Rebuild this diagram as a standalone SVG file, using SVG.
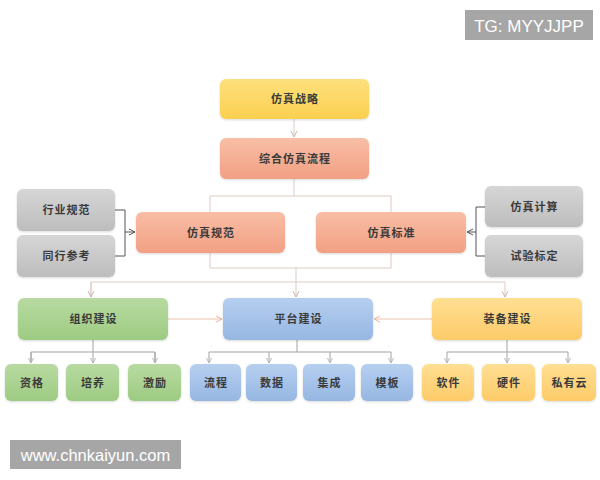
<svg xmlns="http://www.w3.org/2000/svg" width="600" height="480" viewBox="0 0 600 480">
<style>
.t{font-family:"Noto Sans CJK SC","Noto Sans",sans-serif;font-size:11px;font-weight:700;fill:#3a3a3a;text-anchor:middle;letter-spacing:1px}
.box{stroke:none;filter:url(#sh)}
.y{fill:url(#gy)}.s{fill:url(#gs)}.g{fill:url(#gg)}.gr{fill:url(#ggr)}.b{fill:url(#gb)}.o{fill:url(#go)}
.cl{fill:none;stroke:#dccbc3;stroke-width:1}
.ck{fill:none;stroke:#555;stroke-width:1}
.cs{fill:none;stroke:#efc2ad;stroke-width:1.2}
.cg{fill:none;stroke:#a3a3a3;stroke-width:1}
.wm{font-family:"Liberation Sans",Arial,sans-serif;fill:#fff}
</style>
<defs>
<linearGradient id="gy" x1="0" y1="0" x2="0" y2="1"><stop offset="0" stop-color="#fde07c"/><stop offset="1" stop-color="#fbd050"/></linearGradient>
<linearGradient id="gs" x1="0" y1="0" x2="0" y2="1"><stop offset="0" stop-color="#f8bea6"/><stop offset="1" stop-color="#f2a083"/></linearGradient>
<linearGradient id="gg" x1="0" y1="0" x2="0" y2="1"><stop offset="0" stop-color="#d6d6d6"/><stop offset="1" stop-color="#bdbdbd"/></linearGradient>
<linearGradient id="ggr" x1="0" y1="0" x2="0" y2="1"><stop offset="0" stop-color="#b8daa2"/><stop offset="1" stop-color="#9dcb82"/></linearGradient>
<linearGradient id="gb" x1="0" y1="0" x2="0" y2="1"><stop offset="0" stop-color="#b6cff0"/><stop offset="1" stop-color="#96b7e2"/></linearGradient>
<linearGradient id="go" x1="0" y1="0" x2="0" y2="1"><stop offset="0" stop-color="#ffdf93"/><stop offset="1" stop-color="#fdcb68"/></linearGradient>
<filter id="sh" x="-10%" y="-10%" width="120%" height="130%"><feDropShadow dx="0" dy="1" stdDeviation="1" flood-color="#000" flood-opacity="0.15"/></filter>
<marker id="ak" markerWidth="8" markerHeight="8" refX="7" refY="4" orient="auto" markerUnits="userSpaceOnUse"><path d="M1,1 L7,4 L1,7" fill="none" stroke="#555" stroke-width="1"/></marker>
<marker id="al" markerWidth="8" markerHeight="8" refX="7" refY="4" orient="auto" markerUnits="userSpaceOnUse"><path d="M1,1 L7,4 L1,7" fill="none" stroke="#cdb5ab" stroke-width="1"/></marker>
<marker id="as" markerWidth="8" markerHeight="8" refX="7" refY="4" orient="auto" markerUnits="userSpaceOnUse"><path d="M1,1 L7,4 L1,7" fill="none" stroke="#e9b49c" stroke-width="1"/></marker>
<marker id="ag" markerWidth="8" markerHeight="8" refX="7" refY="4" orient="auto" markerUnits="userSpaceOnUse"><path d="M2,1.5 L7,4 L2,6.5" fill="none" stroke="#b5b5b5" stroke-width="1"/></marker>
</defs>
<rect width="600" height="480" fill="#fff"/>

<g id="connectors">
<path class="cl" d="M294,119 V137" marker-end="url(#al)"/>
<path class="cl" d="M294,179 V196 M210,212 V196 H391 V212"/>
<path class="cl" d="M210,253 V268 H391 V253"/>
<path class="cl" d="M296,268 V297" marker-end="url(#al)"/>
<path class="cl" d="M91,297 V282 H505 V297" marker-end="url(#al)"/>
<path class="cl" d="M91,282 V297" marker-end="url(#al)"/>
<path class="ck" d="M115,210 H125 V256 H115"/>
<path class="ck" d="M125,232 H135" marker-end="url(#ak)"/>
<path class="ck" d="M485,207 H476 V256 H485"/>
<path class="ck" d="M476,232 H467" marker-end="url(#ak)"/>
<path class="cs" d="M168,319 H222" marker-end="url(#as)"/>
<path class="cs" d="M432,319 H374" marker-end="url(#as)"/>
<path class="cg" d="M93,340 V352 M31,363 V352 H155 V363"/>
<path class="cg" d="M31,352 V363" marker-end="url(#ag)"/>
<path class="cg" d="M93,352 V363" marker-end="url(#ag)"/>
<path class="cg" d="M155,352 V363" marker-end="url(#ag)"/>
<path class="cg" d="M297,340 V352 M209,352 H391"/>
<path class="cg" d="M209,352 V363" marker-end="url(#ag)"/>
<path class="cg" d="M269,352 V363" marker-end="url(#ag)"/>
<path class="cg" d="M330,352 V363" marker-end="url(#ag)"/>
<path class="cg" d="M391,352 V363" marker-end="url(#ag)"/>
<path class="cg" d="M507,340 V352 M447,352 H568"/>
<path class="cg" d="M447,352 V363" marker-end="url(#ag)"/>
<path class="cg" d="M507,352 V363" marker-end="url(#ag)"/>
<path class="cg" d="M568,352 V363" marker-end="url(#ag)"/>
</g>

<g id="n-zhanlue"><rect class="box y" x="220" y="79" width="149" height="40" rx="6"/><text class="t" x="295" y="103">仿真战略</text></g>
<g id="n-zonghe"><rect class="box s" x="220" y="138" width="149" height="41" rx="6"/><text class="t" x="295" y="162.5">综合仿真流程</text></g>
<g id="n-hangye"><rect class="box g" x="17" y="189" width="98" height="42" rx="6"/><text class="t" x="66.5" y="214">行业规范</text></g>
<g id="n-tonghang"><rect class="box g" x="17" y="235" width="98" height="42" rx="6"/><text class="t" x="66.5" y="260">同行参考</text></g>
<g id="n-guifan"><rect class="box s" x="136" y="212" width="149" height="41" rx="6"/><text class="t" x="211" y="236.5">仿真规范</text></g>
<g id="n-biaozhun"><rect class="box s" x="316" y="212" width="150" height="41" rx="6"/><text class="t" x="391.5" y="236.5">仿真标准</text></g>
<g id="n-jisuan"><rect class="box g" x="485" y="186" width="98" height="41" rx="6"/><text class="t" x="534.5" y="210.5">仿真计算</text></g>
<g id="n-shiyan"><rect class="box g" x="485" y="235" width="98" height="42" rx="6"/><text class="t" x="534.5" y="260">试验标定</text></g>
<g id="n-zuzhi"><rect class="box gr" x="18" y="298" width="150" height="42" rx="6"/><text class="t" x="93.5" y="323">组织建设</text></g>
<g id="n-pingtai"><rect class="box b" x="223" y="298" width="150" height="42" rx="6"/><text class="t" x="298.5" y="323">平台建设</text></g>
<g id="n-zhuangbei"><rect class="box o" x="432" y="298" width="150" height="42" rx="6"/><text class="t" x="507.5" y="323">装备建设</text></g>
<g id="n-zige"><rect class="box gr" x="5" y="364" width="53" height="37" rx="6"/><text class="t" x="32" y="386.5">资格</text></g>
<g id="n-peiyang"><rect class="box gr" x="66" y="364" width="53" height="37" rx="6"/><text class="t" x="93" y="386.5">培养</text></g>
<g id="n-jili"><rect class="box gr" x="128" y="364" width="53" height="37" rx="6"/><text class="t" x="155" y="386.5">激励</text></g>
<g id="n-liucheng"><rect class="box b" x="190" y="364" width="51" height="37" rx="6"/><text class="t" x="216" y="386.5">流程</text></g>
<g id="n-shuju"><rect class="box b" x="246" y="364" width="51" height="37" rx="6"/><text class="t" x="272" y="386.5">数据</text></g>
<g id="n-jicheng"><rect class="box b" x="303" y="364" width="52" height="37" rx="6"/><text class="t" x="329.5" y="386.5">集成</text></g>
<g id="n-muban"><rect class="box b" x="361" y="364" width="52" height="37" rx="6"/><text class="t" x="387.5" y="386.5">模板</text></g>
<g id="n-ruanjian"><rect class="box o" x="422" y="364" width="52" height="37" rx="6"/><text class="t" x="448.5" y="386.5">软件</text></g>
<g id="n-yingjian"><rect class="box o" x="482" y="364" width="53" height="37" rx="6"/><text class="t" x="509" y="386.5">硬件</text></g>
<g id="n-siyouyun"><rect class="box o" x="542" y="364" width="54" height="37" rx="6"/><text class="t" x="569.5" y="386.5">私有云</text></g>

<g id="watermark-tg"><rect x="465" y="10" width="128" height="30" fill="#a6a6a6"/><text class="wm" x="529" y="31.5" font-size="17" text-anchor="middle">TG: MYYJJPP</text></g>
<g id="watermark-site"><rect x="10" y="440" width="171" height="29" fill="#a6a6a6"/><text class="wm" x="95.5" y="460.5" font-size="16.5" text-anchor="middle">www.chnkaiyun.com</text></g>
</svg>
